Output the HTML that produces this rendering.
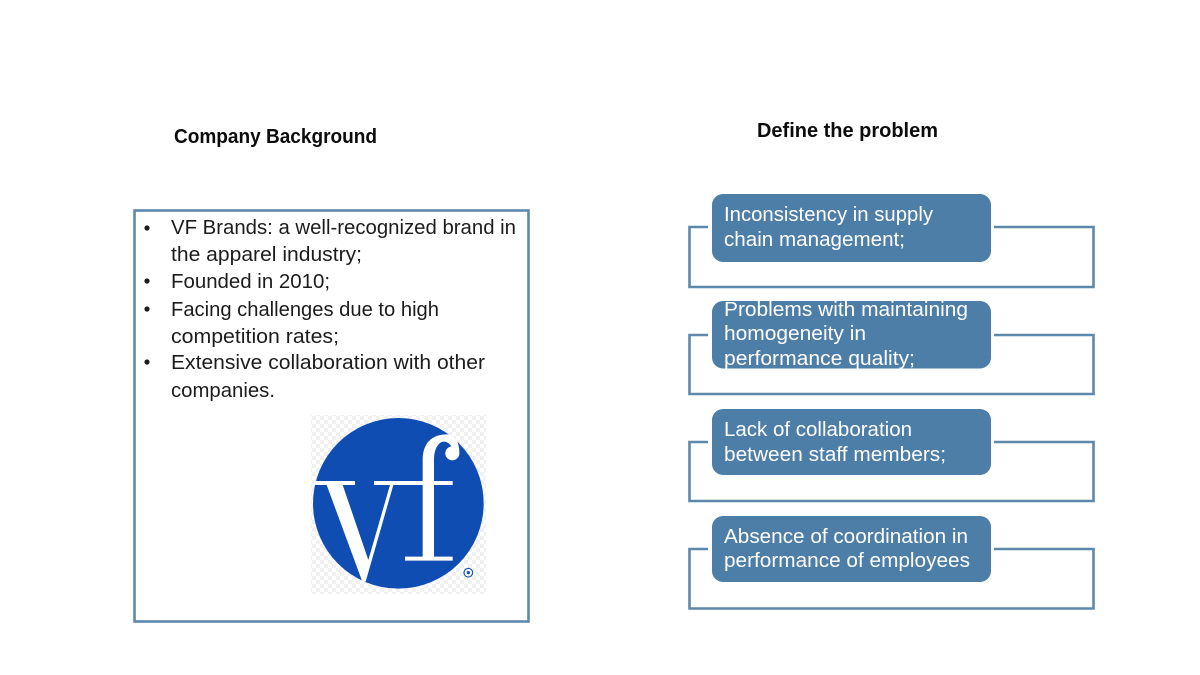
<!DOCTYPE html>
<html>
<head>
<meta charset="utf-8">
<style>
html,body{margin:0;padding:0;background:#fff;width:1200px;height:675px;overflow:hidden}
svg{display:block}
text{font-family:"Liberation Sans",sans-serif}
.t{font-size:20px;fill:#1c1c1c}
.w{font-size:20px;fill:#fff}
.h{font-size:20px;font-weight:bold;fill:#0c0c0c}
.c{fill:none;stroke:#5f89ab;stroke-width:2.6}
.b{fill:#4d7ea8}
</style>
</head>
<body>
<svg width="1200" height="675" viewBox="0 0 1200 675" xmlns="http://www.w3.org/2000/svg">
<defs>
<pattern id="chk" width="8" height="8" patternUnits="userSpaceOnUse">
<rect width="8" height="8" fill="#ffffff"/>
<rect width="4" height="4" fill="#f0f0f0"/>
<rect x="4" y="4" width="4" height="4" fill="#f0f0f0"/>
</pattern>
</defs>

<text class="h" x="174" y="143" textLength="203" lengthAdjust="spacingAndGlyphs">Company Background</text>
<text class="h" x="757" y="137" textLength="181" lengthAdjust="spacingAndGlyphs">Define the problem</text>

<rect x="134.5" y="210.5" width="394" height="411" fill="none" stroke="#5f89ab" stroke-width="2.6"/>

<circle cx="147" cy="228" r="2.6" fill="#1c1c1c"/>
<circle cx="147" cy="281" r="2.6" fill="#1c1c1c"/>
<circle cx="147" cy="309" r="2.6" fill="#1c1c1c"/>
<circle cx="147" cy="362" r="2.6" fill="#1c1c1c"/>
<text class="t" x="171" y="234" textLength="345" lengthAdjust="spacingAndGlyphs">VF Brands: a well-recognized brand in</text>
<text class="t" x="171" y="261" textLength="191" lengthAdjust="spacingAndGlyphs">the apparel industry;</text>
<text class="t" x="171" y="288" textLength="159" lengthAdjust="spacingAndGlyphs">Founded in 2010;</text>
<text class="t" x="171" y="316" textLength="268" lengthAdjust="spacingAndGlyphs">Facing challenges due to high</text>
<text class="t" x="171" y="343" textLength="168" lengthAdjust="spacingAndGlyphs">competition rates;</text>
<text class="t" x="171" y="369" textLength="314" lengthAdjust="spacingAndGlyphs">Extensive collaboration with other</text>
<text class="t" x="171" y="397" textLength="104" lengthAdjust="spacingAndGlyphs">companies.</text>

<!-- logo -->
<rect x="311" y="415" width="175" height="179" fill="url(#chk)"/>
<g transform="translate(300,405) scale(0.33333)">
<circle cx="295" cy="295" r="256" fill="#0f4db3"/>
<path fill="#fff" d="M42 228H165V240H128L205 465L270 240H222V228H368V165C368 115 395 88 440 88C462 88 478 108 478 142L460 142C456 112 432 104 420 114C408 124 402 140 402 165V228H458V240H402V455H458V467H315V455H368V240H280L197 530H187L80 240H42Z"/>
<circle cx="457" cy="145" r="21" fill="#fff"/>
<circle cx="505" cy="503" r="13" fill="none" stroke="#1a55b0" stroke-width="3.5"/>
<circle cx="505" cy="503" r="5" fill="#1a55b0"/>
</g>

<!-- row 1 -->
<path class="c" d="M708 227H689.5V287H1093.5V227H994"/>
<rect class="b" x="712" y="194" width="279" height="68" rx="11"/>
<text class="w" x="724" y="221" textLength="209" lengthAdjust="spacingAndGlyphs">Inconsistency in supply</text>
<text class="w" x="724" y="246" textLength="181" lengthAdjust="spacingAndGlyphs">chain management;</text>

<!-- row 2 -->
<path class="c" d="M708 335H689.5V394H1093.5V335H994"/>
<rect class="b" x="712" y="301" width="279" height="67.5" rx="11"/>
<text class="w" x="724" y="316" textLength="244" lengthAdjust="spacingAndGlyphs">Problems with maintaining</text>
<text class="w" x="724" y="340" textLength="142" lengthAdjust="spacingAndGlyphs">homogeneity in</text>
<text class="w" x="724" y="365" textLength="191" lengthAdjust="spacingAndGlyphs">performance quality;</text>

<!-- row 3 -->
<path class="c" d="M708 442H689.5V501H1093.5V442H994"/>
<rect class="b" x="712" y="409" width="279" height="66" rx="11"/>
<text class="w" x="724" y="436" textLength="188" lengthAdjust="spacingAndGlyphs">Lack of collaboration</text>
<text class="w" x="724" y="461" textLength="222" lengthAdjust="spacingAndGlyphs">between staff members;</text>

<!-- row 4 -->
<path class="c" d="M708 549H689.5V608.5H1093.5V549H994"/>
<rect class="b" x="712" y="516" width="279" height="66" rx="11"/>
<text class="w" x="724" y="543" textLength="244" lengthAdjust="spacingAndGlyphs">Absence of coordination in</text>
<text class="w" x="724" y="567" textLength="246" lengthAdjust="spacingAndGlyphs">performance of employees</text>
</svg>
</body>
</html>
